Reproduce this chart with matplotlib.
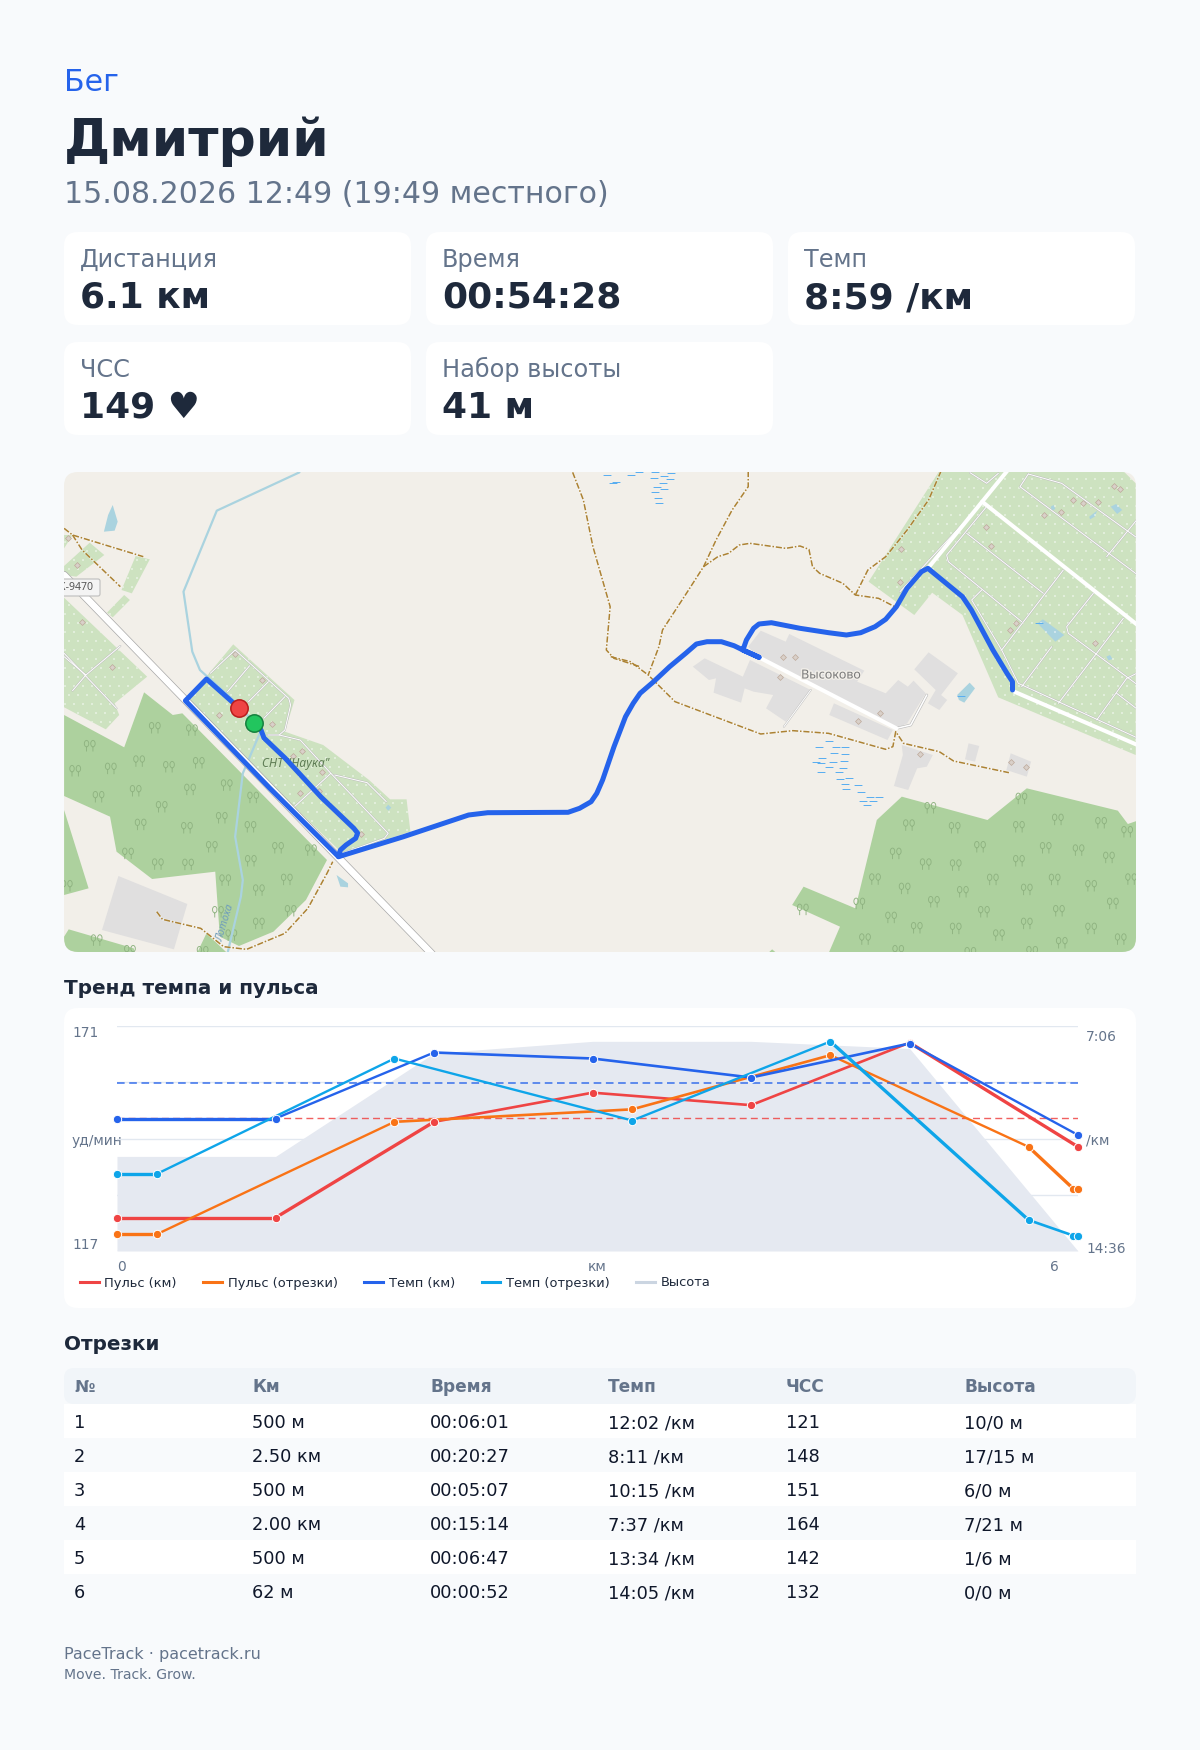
import matplotlib
matplotlib.use("Agg")
import matplotlib.pyplot as plt
import matplotlib.patheffects as pe
import numpy as np
from matplotlib.lines import Line2D
from matplotlib.patches import FancyBboxPatch, Polygon, Rectangle
from matplotlib.path import Path

plt.rcParams['font.family'] = ['DejaVu Sans']

BG = '#f8fafc'
DARK = '#1e293b'
GREY = '#64748b'
RED = '#ef4444'
ORANGE = '#f97316'
BLUE = '#2563eb'
CYAN = '#0ea5e9'

# header + cards
activity = 'Бег'
athlete = 'Дмитрий'
started = '15.08.2026 12:49 (19:49 местного)'
card_labels = ['Дистанция', 'Время', 'Темп', 'ЧСС', 'Набор высоты']
card_values = ['6.1 км', '00:54:28', '8:59 /км', '149 ♥', '41 м']

# chart series
km_x = [0, 1, 2, 3, 4, 5, 6.062]
km_hr = [125, 125, 148, 155, 152, 167, 142]
km_pace = [611, 611, 479, 491, 529, 461, 644]
seg_x = [0, 0.25, 1.75, 3.25, 4.5, 5.75, 6.031, 6.062]
seg_hr = [121, 121, 148, 151, 164, 142, 132, 132]
seg_pace = [722, 722, 491, 615, 457, 814, 845, 845]
elev_m = [18.5, 18.5, 38.7, 41, 41, 39.6, 0]
avg_hr = 149
avg_pace = 539

# table
table_head = ['№', 'Км', 'Время', 'Темп', 'ЧСС', 'Высота']
table_rows = [
    ['1', '500 м', '00:06:01', '12:02 /км', '121', '10/0 м'],
    ['2', '2.50 км', '00:20:27', '8:11 /км', '148', '17/15 м'],
    ['3', '500 м', '00:05:07', '10:15 /км', '151', '6/0 м'],
    ['4', '2.00 км', '00:15:14', '7:37 /км', '164', '7/21 м'],
    ['5', '500 м', '00:06:47', '13:34 /км', '142', '1/6 м'],
    ['6', '62 м', '00:00:52', '14:05 /км', '132', '0/0 м'],
]

# the route, in picture pixels
route_x = [261, 264, 285, 321, 353.8, 357.6, 355.7, 346, 340.4, 338.5, 269.6, 231, 185.4, 206.5, 239.4]
route_y = [730, 738, 758, 797, 828.3, 833, 838.3, 845, 850, 856.7, 788, 748, 700.7, 679, 708.3]
route2_x = [338.5, 403.5, 468.6, 487.7, 568.1, 579.6, 591.1, 596.8, 602.6, 614, 625.5, 633.2, 640.1, 653.6, 669.6,
            685.7, 696.4, 707, 721.4, 734, 742.9, 759, 742.9, 746.4, 753.6, 759, 771.4, 800, 828.6, 846.4, 860.7, 875,
            885.7, 896.4, 907, 921.4, 927.9, 932, 962.5, 971.4, 992.9, 1007, 1012.5, 1012.5]
route2_y = [856.7, 836.7, 815, 812.7, 812.3, 808.3, 801.7, 793.3, 780, 746.7, 716.7, 703.3, 693.3, 681.7, 666.7,
            653.3, 644, 641.7, 641.7, 645.7, 650, 657.3, 650, 640, 628.3, 624, 622.7, 628.3, 632.7, 635, 632.7, 626.7,
            619.3, 606.7, 588.3, 571.7, 568.3, 571.7, 596.7, 610, 650, 673.3, 681.7, 690]

# map shapes
forest_l = [
    [(63, 765), (220, 862), (272, 697), (347, 765), (372, 760), (750, 1200), (695, 1320), (610, 1415), (520, 1458),
     (470, 1430), (458, 1235), (293, 1257), (200, 1175), (183, 1070), (63, 1008)],
    [(63, 1050), (127, 1285), (63, 1305)],
    [(75, 1408), (245, 1465), (248, 1480), (63, 1480), (63, 1430)],
    [(435, 1420), (490, 1480), (410, 1480)],
]
allot_l = [
    [(505, 553), (665, 720), (640, 815), (740, 855), (860, 960), (915, 1018), (958, 1018), (968, 1115), (790, 1180), (380, 725)],
    [(60, 410), (280, 650), (195, 730), (207, 765), (172, 808), (60, 740)],
    [(63, 225), (85, 225), (63, 265)],
    [(130, 248), (168, 285), (95, 350), (63, 345), (63, 318)],
    [(250, 288), (287, 298), (240, 400), (213, 390)],
    [(220, 405), (235, 420), (190, 472), (175, 458)],
]
resid_l = [[(205, 1248), (385, 1332), (350, 1468), (162, 1410)]]
water_l = [
    [(190, 135), (203, 185), (195, 212), (167, 215), (178, 165)],
    [(775, 1245), (805, 1270), (805, 1282), (785, 1280)],
    [(903, 1043), (910, 1034), (918, 1043), (910, 1052)],
]
stream_l = [(678, 37), (462, 152), (375, 395), (398, 575), (418, 630), (500, 715), (578, 810), (530, 940), (510, 1130),
            (530, 1260), (525, 1310), (490, 1480)]
paths_l = [
    [(1392, 37), (1420, 120), (1445, 260), (1490, 440), (1480, 570), (1500, 595), (1568, 620)],
    [(63, 205), (85, 225), (270, 290)],
    [(85, 225), (110, 270), (210, 380)],
    [(305, 1355), (320, 1378), (420, 1405), (480, 1460), (540, 1468), (640, 1420), (700, 1345), (750, 1240), (765, 1205)],
]
thin_l = [
    [(510, 570), (650, 715), (655, 735), (640, 810), (625, 825), (595, 825)],
    [(445, 640), (510, 570)], [(490, 695), (548, 617)], [(545, 725), (597, 665)], [(585, 775), (640, 710)],
    [(625, 825), (680, 840), (760, 940), (910, 1120), (900, 1135), (790, 1180)],
    [(770, 945), (855, 968), (905, 1025)], [(760, 940), (665, 1040)],
    [(63, 580), (200, 745)], [(210, 558), (120, 645), (85, 692)], [(120, 645), (63, 590)],
]
trees_l = [(300, 803), (397, 810), (130, 857), (92, 932), (185, 925), (259, 903), (337, 920), (415, 908), (488, 975),
           (557, 1012), (153, 1010), (250, 992), (392, 988), (318, 1040), (475, 1073), (263, 1093), (384, 1103),
           (550, 1100), (230, 1180), (449, 1160), (622, 1163), (708, 1170), (308, 1212), (387, 1213), (551, 1202),
           (484, 1260), (572, 1290), (645, 1258), (655, 1352), (572, 1390), (70, 1277), (148, 1440), (235, 1472),
           (425, 1475), (465, 1355), (500, 1425)]
huts_l = [(73, 233), (96, 315), (110, 485), (187, 622), (510, 583), (580, 660), (468, 765), (607, 792), (685, 873),
          (662, 888), (738, 937), (680, 998), (730, 992), (840, 1123)]

forest_r = [
    [(845, 1010), (1085, 1080), (1195, 985), (1450, 1052), (1478, 1092), (1505, 1082), (1505, 1480), (640, 1480),
     (672, 1400), (538, 1335), (570, 1280), (715, 1345), (775, 1080)],
    [(470, 1480), (482, 1468), (495, 1480)],
]
allot_r = [[(950, 33), (1465, 33), (1500, 70), (1500, 885), (1115, 712), (1015, 465), (930, 398), (880, 465), (752, 365)]]
resid_r = [
    [(450, 512), (520, 545), (530, 522), (740, 632), (720, 665), (800, 700), (835, 660), (862, 680), (878, 662),
     (912, 700), (860, 790), (830, 805), (440, 590), (415, 560)],
    [(293, 595), (400, 650), (420, 600), (590, 690), (520, 785), (465, 745), (485, 705), (430, 695), (405, 685),
     (395, 728), (318, 698), (325, 655), (305, 660), (260, 620)],
    [(655, 730), (820, 810), (805, 840), (642, 765)],
    [(920, 577), (1002, 640), (955, 705), (972, 720), (950, 750), (918, 730), (940, 690), (880, 628)],
    [(845, 855), (932, 885), (915, 920), (888, 925), (863, 990), (823, 978), (848, 885)],
    [(1032, 850), (1062, 858), (1050, 905), (1022, 898)],
    [(1150, 880), (1207, 905), (1195, 950), (1138, 930)],
]
water_r = [
    [(1000, 705), (1035, 668), (1050, 685), (1020, 728), (1005, 720)],
    [(1240, 478), (1300, 525), (1275, 545), (1225, 490)],
    [(1430, 140), (1445, 132), (1462, 150), (1448, 162)],
    [(1262, 140), (1270, 135), (1275, 147), (1265, 152)],
    [(1370, 170), (1392, 152), (1385, 170), (1372, 178)],
    [(1418, 590), (1428, 585), (1435, 597), (1424, 601)],
]
roads_r = [
    [(445, 592), (830, 805)],
    [(1140, 33), (918, 325)],
    [(1070, 125), (1505, 495)],
    [(1160, 695), (1505, 855)],
]
paths_r = [
    [(415, 33), (415, 80), (370, 150), (325, 240), (290, 320), (245, 395), (175, 510), (165, 560), (135, 645)],
    [(290, 320), (330, 290), (360, 280), (390, 255), (420, 250), (520, 265), (560, 258), (585, 268), (595, 320),
     (615, 340), (680, 370), (715, 405), (780, 415), (825, 440)],
    [(715, 405), (750, 330), (800, 290), (860, 210), (920, 120), (955, 33)],
    [(30, 590), (85, 605), (135, 645), (210, 725), (450, 822), (540, 812), (640, 820), (800, 868), (820, 860),
     (828, 815), (850, 850), (950, 875), (990, 903), (1145, 938)],
]
trees_r = [(925, 1043), (1180, 1015), (865, 1095), (993, 1103), (1173, 1100), (1282, 1078), (1403, 1088), (1476, 1115),
           (828, 1180), (1064, 1160), (1248, 1163), (1340, 1170), (1425, 1192), (912, 1212), (996, 1215), (1173, 1202),
           (770, 1257), (853, 1285), (1100, 1258), (1273, 1258), (1375, 1277), (1487, 1257), (1016, 1295), (1195, 1288),
           (935, 1325), (1075, 1355), (1285, 1352), (1436, 1330), (815, 1372), (887, 1403), (996, 1405), (1195, 1390),
           (1375, 1405), (742, 1437), (1117, 1425), (1293, 1448), (1458, 1437), (835, 1472), (1037, 1478), (1210, 1475),
           (726, 1330), (568, 1348)]
huts_r = [(512, 592), (545, 592), (504, 652), (785, 758), (723, 782), (895, 883), (1152, 907), (1193, 920), (840, 365),
          (843, 267), (1325, 120), (1353, 128), (1395, 127), (1290, 157), (1242, 165), (1080, 202), (1095, 258),
          (1165, 490), (1148, 510), (1385, 548), (1440, 77), (1457, 88)]
marsh_r = [(640, 843), (613, 860), (660, 860), (687, 862), (655, 880), (687, 883), (622, 895), (605, 905), (652, 907),
           (682, 902), (620, 910), (640, 922), (680, 925), (620, 935), (670, 937), (697, 955), (672, 958), (687, 973),
           (723, 976), (730, 997), (688, 987), (755, 1010), (782, 1010), (735, 1023), (765, 1022), (748, 1036),
           (20, 46), (88, 46), (110, 37), (155, 37), (200, 40), (150, 55), (178, 47), (195, 57), (45, 65), (35, 70),
           (175, 70), (160, 80), (180, 88), (155, 97), (162, 115), (165, 130), (1012, 708), (1228, 490)]
# crop of the top right corner, true 3x
thin_c = [
    [(318, 112), (200, 255), (205, 275), (425, 455)], [(260, 190), (490, 370)],
    [(550, 300), (365, 540), (415, 640), (775, 805)], [(640, 370), (560, 470), (565, 490), (780, 650)],
    [(730, 445), (535, 700)], [(515, 530), (425, 650)], [(445, 12), (420, 50), (780, 320)],
    [(445, 12), (545, 40), (780, 210)], [(770, 150), (680, 260)], [(740, 625), (650, 750)], [(710, 670), (775, 720)],
    [(780, 605), (740, 625)], [(305, 360), (275, 390), (365, 540)], [(60, 365), (310, 95)], [(355, 10), (320, 40), (270, 8)],
]


def left(pts):
    return [(40 + x * 600 / 1568, 460 + y / 3) for x, y in pts]


def right(pts):
    return [(600 + x / 2.8, 460 + y / 3) for x, y in pts]


def corner(pts):
    return [(880 + x / 3, 470 + y / 3) for x, y in pts]


fig = plt.figure(figsize=(12, 17.5), dpi=100, facecolor=BG)
page = fig.add_axes([0, 0, 1, 1])
page.set_xlim(0, 1200)
page.set_ylim(1750, 0)
page.axis('off')


def px(size):
    return size * 0.72


def round_box(x, y, w, h, r, color, zorder=1):
    box = FancyBboxPatch((x, y), w, h, boxstyle='round,pad=0,rounding_size=%d' % r, fc=color, ec='none', zorder=zorder)
    page.add_patch(box)
    return box


# header
page.text(64, 91, activity, color=BLUE, fontsize=px(30), va='baseline')
page.text(64, 155.7, athlete, color=DARK, fontsize=px(52), fontweight='bold', va='baseline')
page.text(64, 203, started, color=GREY, fontsize=px(30), va='baseline')

card_x = [64, 426, 788, 64, 426]
card_y = [232, 232, 232, 342, 342]
for i in range(len(card_labels)):
    round_box(card_x[i], card_y[i], 347, 93, 14, 'white')
    page.text(card_x[i] + 16, card_y[i] + 35, card_labels[i], color=GREY, fontsize=px(24), va='baseline')
    page.text(card_x[i] + 16, card_y[i] + 76, card_values[i], color=DARK, fontsize=px(36), fontweight='bold', va='baseline')

# map
clip = round_box(64, 472, 1072, 480, 14, '#f2efe9')
map_items = []


def poly(pts, color):
    p = Polygon(pts, closed=True, fc=color, ec='none', zorder=2)
    page.add_patch(p)
    map_items.append(p)


def line(pts, color, lw, zorder=3, **kw):
    xs = [p[0] for p in pts]
    ys = [p[1] for p in pts]
    l, = page.plot(xs, ys, color=color, lw=lw, zorder=zorder, solid_capstyle='round', solid_joinstyle='round', **kw)
    map_items.append(l)


allot_polys = [left(p) for p in allot_l] + [right(p) for p in allot_r]
for p in allot_polys:
    poly(p, '#cde2c0')
for p in forest_l:
    poly(left(p), '#add19e')
for p in forest_r:
    poly(right(p), '#add19e')
for p in resid_l:
    poly(left(p), '#e0dfdf')
for p in resid_r:
    poly(right(p), '#e0dfdf')
for p in water_l:
    poly(left(p), '#aad3df')
for p in water_r:
    poly(right(p), '#aad3df')

# little white crosses on the allotments
codes = []
verts = []
for p in allot_polys:
    verts += p + [p[0]]
    codes += [Path.MOVETO] + [Path.LINETO] * (len(p) - 1) + [Path.CLOSEPOLY]
allot_path = Path(verts, codes)
gx, gy = np.meshgrid(np.arange(60, 1140, 9.0), np.arange(470, 955, 9.0))
gx[::2] += 4.5
dots = page.scatter(gx.ravel(), gy.ravel(), marker='+', s=3, c='white', linewidths=0.35, alpha=0.85, zorder=2.5)
dots.set_clip_path(allot_path, page.transData)

# trees
tree_parts = []
for cx in (-0.55, 0.55):
    c = Path.unit_circle()
    tree_parts.append(Path(c.vertices * [0.38, 0.55] + [cx, 0.35], c.codes))
    tree_parts.append(Path([(cx, -0.2), (cx, -1)], [Path.MOVETO, Path.LINETO]))
tree = Path.make_compound_path(*tree_parts)
tree_pts = left(trees_l) + right(trees_r)
t = page.scatter([p[0] for p in tree_pts], [p[1] for p in tree_pts], marker=tree, s=70, facecolors='none',
                 edgecolors='#8fb381', linewidths=0.65, zorder=2.6)
map_items.append(t)

hut_pts = left(huts_l) + right(huts_r)
h = page.scatter([p[0] for p in hut_pts], [p[1] for p in hut_pts], marker='D', s=9, c='#d9d0c9', edgecolors='#bda99a',
                 linewidths=0.5, zorder=2.6)
map_items.append(h)
marsh_pts = right(marsh_r)
m = page.scatter([p[0] for p in marsh_pts], [p[1] for p in marsh_pts], marker='_', s=36, c='#5aaef0', linewidths=0.6, zorder=2.6)
map_items.append(m)

line(left(stream_l), '#aad3df', 1.6)
for p in thin_l:
    line(left(p), '#bdbdbd', 1.4, zorder=3)
    line(left(p), 'white', 0.7, zorder=3.01)
for p in thin_c:
    line(corner(p), '#bdbdbd', 1.4, zorder=3)
    line(corner(p), 'white', 0.7, zorder=3.01)
line(right([(915, 705), (870, 795), (830, 805)]), '#bdbdbd', 2, zorder=3)
line(right([(915, 705), (870, 795), (830, 805)]), 'white', 1.1, zorder=3.01)
line(right([(590, 690), (515, 800)]), '#bdbdbd', 1.4, zorder=3)
line(right([(590, 690), (515, 800)]), 'white', 0.7, zorder=3.01)

# main road
main_road = [(64, 575), (430, 952), (442, 965)]
line(main_road, '#a8a8a8', 5.8, zorder=3.2)
line(main_road, 'white', 4.8, zorder=3.3)
for p in roads_r:
    line(right(p), 'white', 2.9, zorder=3.3)

for pts in [left(p) for p in paths_l] + [right(p) for p in paths_r]:
    line(pts, 'white', 1.8, zorder=3.35, alpha=0.35)
    line(pts, '#ac8233', 1.1, zorder=3.4, linestyle=(0, (4, 1.2, 1, 1.2)))

chip = FancyBboxPatch((54, 579), 46, 17, boxstyle='round,pad=0,rounding_size=2', fc='#f4f4f4', ec='#bdbdbd', lw=0.8, zorder=4)
page.add_patch(chip)
map_items.append(chip)
map_items.append(page.text(93.5, 588, 'К-9470', fontsize=px(10.5), color='#555555', ha='right', va='center', zorder=4.1,
                           family='Noto Sans', clip_on=True))
# the chip runs off the map's left edge
page.add_patch(Rectangle((40, 570), 24, 36, fc=BG, ec='none', zorder=4.5))
halo = [pe.withStroke(linewidth=2, foreground='#f2efe9')]
map_items.append(page.text(831, 675, 'Высоково', fontsize=px(12.5), color='#7a7a7a', ha='center', va='center', zorder=4,
                           family='Noto Sans', path_effects=halo, clip_on=True))
map_items.append(page.text(296, 763, 'СНТ "Наука"', fontsize=px(12), color='#5f7d55', ha='center', va='center', zorder=4,
                           family='Noto Sans', style='italic', clip_on=True))
map_items.append(page.text(226, 923, 'Лотоха', fontsize=px(10.5), color='#6f9dbb', ha='center', va='center', zorder=4,
                           family='Noto Sans', style='italic', rotation=73, clip_on=True))

line(list(zip(route2_x, route2_y)), BLUE, 3.6, zorder=5)
line(list(zip(route_x, route_y)), BLUE, 3.6, zorder=5)
end_m, = page.plot([239.4], [708.3], 'o', ms=12.5, mfc=RED, mec='#b91c1c', mew=1.1, zorder=6)
start_m, = page.plot([253.5], [723.3], 'o', ms=12.5, mfc='#22c55e', mec='#15803d', mew=1.1, zorder=6)
map_items += [end_m, start_m]
for item in map_items:
    item.set_clip_path(clip)

# chart card
page.text(64, 988, 'Тренд темпа и пульса', color=DARK, fontsize=px(20), fontweight='bold', va='center')
round_box(64, 1008, 1072, 300, 14, 'white')

rect = [117 / 1200, 1 - 1251 / 1750, 961 / 1200, 225 / 1750]
ax_elev = fig.add_axes(rect, zorder=2)
ax = fig.add_axes(rect, zorder=3)
ax_pace = fig.add_axes(rect, zorder=4)
for a in (ax_elev, ax, ax_pace):
    a.set_xlim(0, 6.062)
    a.set_xticks([])
    a.tick_params(left=False, right=False, labelleft=False)
    a.patch.set_visible(False)
    for s in a.spines.values():
        s.set_visible(False)
ax.set_yticks([])
ax_pace.set_yticks([])
ax.set_ylim(117, 171)
ax_pace.set_ylim(876, 426)

ax_elev.set_ylim(0, 44)
ax_elev.set_yticks([0, 11, 22, 33, 44])
ax_elev.grid(axis='y', color='#e2e8f0', lw=1)
ax_elev.set_axisbelow(True)
ax_elev.fill_between(km_x, 0, elev_m, color='#e5e9f1', lw=0)

ax.axhline(avg_hr, color=RED, lw=1, ls=(0, (5, 3)), alpha=0.85)
ax_pace.axhline(avg_pace, color=BLUE, lw=1.1, ls=(0, (5, 3)), alpha=0.9)

T = 2.4
M = 1.9
N = 1.7


def series(a, xs, ys, color, widths):
    for i in range(len(xs) - 1):
        a.plot(xs[i:i + 2], ys[i:i + 2], color=color, lw=widths[i], solid_capstyle='round', zorder=3)
    a.plot(xs, ys, 'o', color=color, ms=6, mec='white', mew=0.7, clip_on=False, zorder=4)


series(ax, km_x, km_hr, RED, [T, T, M, M, M, T])
series(ax, seg_x, seg_hr, ORANGE, [T, N, M, M, N, T, N])
series(ax_pace, km_x, km_pace, BLUE, [T, N, M, M, M, N])
series(ax_pace, seg_x, seg_pace, CYAN, [T, N, N, N, T, M, N])

tick_c = GREY
tick_size = px(13.7)
page.text(72, 1037, '171', color=tick_c, fontsize=tick_size, va='baseline')
page.text(72, 1145, 'уд/мин', color=tick_c, fontsize=tick_size, va='baseline')
page.text(72, 1249, '117', color=tick_c, fontsize=tick_size, va='baseline')
page.text(1086, 1041, '7:06', color=tick_c, fontsize=tick_size, va='baseline')
page.text(1086, 1145, '/км', color=tick_c, fontsize=tick_size, va='baseline')
page.text(1086, 1253, '14:36', color=tick_c, fontsize=tick_size, va='baseline')
page.text(122, 1270.7, '0', color=tick_c, fontsize=tick_size, va='baseline', ha='center')
page.text(597, 1270.7, 'км', color=tick_c, fontsize=tick_size, va='baseline', ha='center')
page.text(1054, 1270.7, '6', color=tick_c, fontsize=tick_size, va='baseline', ha='center')

handles = [
    Line2D([], [], color=RED, lw=2.2),
    Line2D([], [], color=ORANGE, lw=2.2),
    Line2D([], [], color=BLUE, lw=2.2),
    Line2D([], [], color=CYAN, lw=2.2),
    Line2D([], [], color='#cbd5e1', lw=2.2),
]
labels = ['Пульс (км)', 'Пульс (отрезки)', 'Темп (км)', 'Темп (отрезки)', 'Высота']
fig.legend(handles, labels, loc='center left', bbox_to_anchor=(80 / 1200, 1 - 1283 / 1750), ncol=5, frameon=False,
           fontsize=px(13), labelcolor=DARK, handlelength=1.45, handletextpad=0.42, columnspacing=2.05, borderpad=0,
           borderaxespad=0)

# table
page.text(64, 1344, 'Отрезки', color=DARK, fontsize=px(20), fontweight='bold', va='center')
col_x = [74, 252, 430, 608, 786, 964]
round_box(64, 1368, 1072, 36, 10, '#f1f5f9')
for x, name in zip(col_x, table_head):
    page.text(x, 1392.5, name, color=GREY, fontsize=px(17), fontweight='bold', va='baseline')
for i, row in enumerate(table_rows):
    y = 1404 + 34 * i
    if i % 2 == 0:
        page.add_patch(Rectangle((64, y), 1072, 34, fc='white', ec='none', zorder=1))
    for x, val in zip(col_x, row):
        page.text(x, y + 24, val, color='#0f172a', fontsize=px(17.8), va='baseline')

page.text(64, 1659, 'PaceTrack · pacetrack.ru', color=GREY, fontsize=px(16), va='baseline')
page.text(64, 1679, 'Move. Track. Grow.', color=GREY, fontsize=px(14), va='baseline')

fig.savefig('out.png', dpi=100, facecolor=BG)
